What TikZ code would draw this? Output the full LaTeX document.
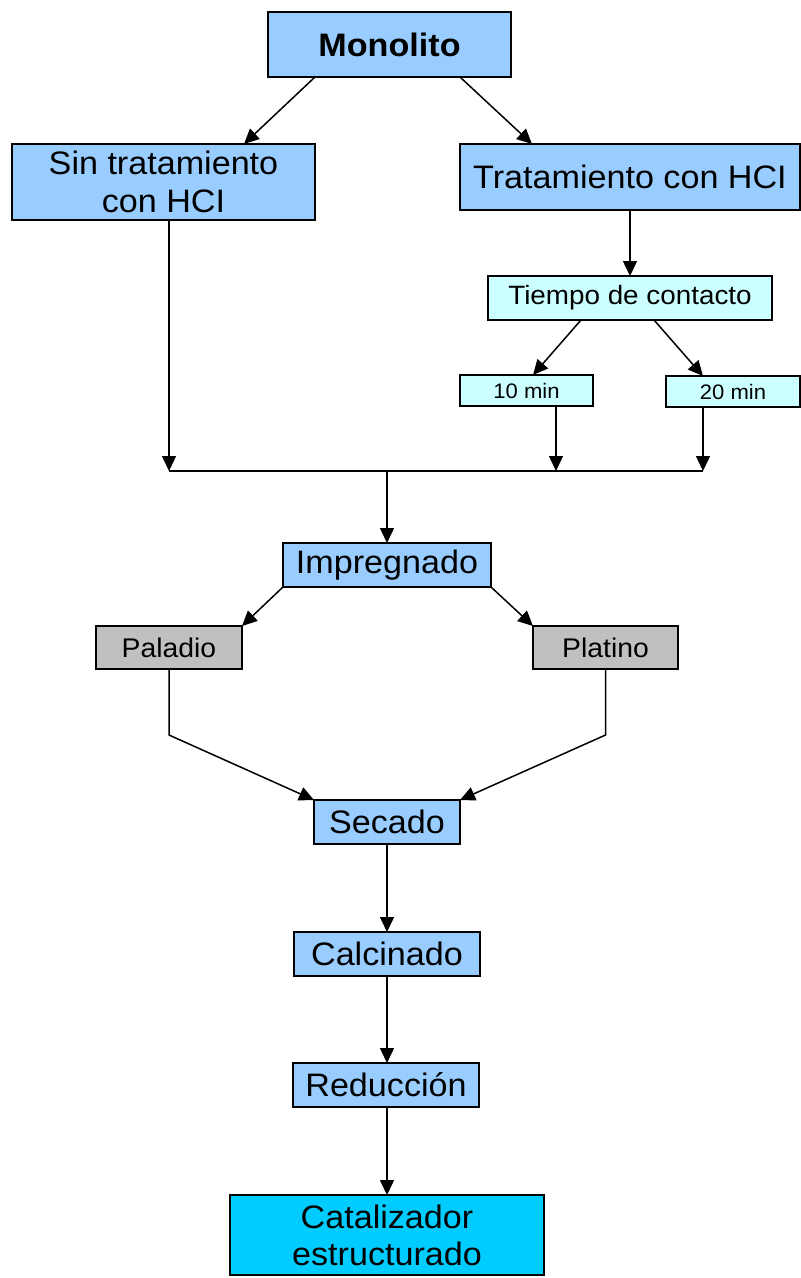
\documentclass[tikz,border=0pt]{standalone}
\usepackage{fontspec}
\setmainfont{Liberation Sans}[FakeStretch=1.05]
\usetikzlibrary{arrows.meta,calc}
\definecolor{boxblue}{HTML}{99CCFF}
\definecolor{boxcyan}{HTML}{CCFFFF}
\definecolor{boxgray}{HTML}{C0C0C0}
\definecolor{boxfinal}{HTML}{00CCFF}
\begin{document}
\begin{tikzpicture}[x=1pt,y=-1pt,
  box/.style={draw=black, line width=1.5pt, inner sep=0pt, outer sep=0pt, align=center},
  bluebox/.style={box, fill=boxblue, font=\fontsize{32.5}{38}\selectfont},
  cyanbox/.style={box, fill=boxcyan},
  graybox/.style={box, fill=boxgray, font=\fontsize{27}{32}\selectfont},
  arr/.style={-{Triangle[length=15pt,width=14pt]}, line width=1.5pt},
  ln/.style={line width=1.5pt}]
\useasboundingbox (0,0) rectangle (801,1278);
% nodes
\node[bluebox, font=\bfseries\fontsize{32.5}{38}\selectfont, minimum width=243, minimum height=65] (mono) at (389.5,44.5) {Monolito};
\node[bluebox, minimum width=303, minimum height=76] (sin) at (163.5,182) {Sin tratamiento\\con HCI};
\node[bluebox, minimum width=340, minimum height=66] (trat) at (630,177) {Tratamiento con HCI};
\node[cyanbox, font=\fontsize{26.5}{32}\selectfont, minimum width=284, minimum height=44] (tiempo) at (630,298) {Tiempo de contacto};
\node[cyanbox, font=\fontsize{21}{25}\selectfont, minimum width=133, minimum height=31] (m10) at (526.5,390.5) {10 min};
\node[cyanbox, font=\fontsize{21}{25}\selectfont, minimum width=134, minimum height=31] (m20) at (733,391.5) {20 min};
\node[bluebox, minimum width=208, minimum height=44] (impr) at (387,565) {Impregnado};
\node[graybox, minimum width=146, minimum height=43] (pal) at (169,647.5) {Paladio};
\node[graybox, minimum width=145, minimum height=43] (plat) at (605.5,647.5) {Platino};
\node[bluebox, minimum width=146, minimum height=44] (sec) at (387,822) {Secado};
\node[bluebox, minimum width=186, minimum height=44] (calc) at (387,954) {Calcinado};
\node[bluebox, minimum width=186, minimum height=44] (red) at (386,1085) {Reducción};
\node[box, fill=boxfinal, font=\fontsize{32.5}{37}\selectfont, minimum width=314, minimum height=80] (cat) at (387,1235) {Catalizador\\estructurado};
% junction coordinates
\coordinate (jl) at (169,471);
\coordinate (j10) at (556,471);
\coordinate (jr) at (703,471);
\coordinate (jm) at (387,471);
\coordinate (bl) at (169,735);
\coordinate (br) at (605.5,735);
% connectors
\draw[arr] ([xshift=47]mono.south west) -- ([xshift=232]sin.north west);
\draw[arr] ([xshift=-51]mono.south east) -- ([xshift=72]trat.north west);
\draw[arr] (trat.south) -- (trat.south |- tiempo.north);
\draw[arr] ([xshift=93]tiempo.south west) -- ([xshift=73]m10.north west);
\draw[arr] ([xshift=166]tiempo.south west) -- ([xshift=37]m20.north west);
\draw[arr] (sin.south -| jl) -- (jl);
\draw[arr] (m10.south -| j10) -- (j10);
\draw[arr] (m20.south -| jr) -- (jr);
\draw[ln] (jl) -- (jr);
\draw[arr] (jm) -- (jm |- impr.north);
\draw[arr] (impr.south west) -- (pal.north east);
\draw[arr] (impr.south east) -- (plat.north west);
\draw[arr] (pal.south) -- (bl) -- (sec.north west);
\draw[arr] (plat.south) -- (br) -- (sec.north east);
\draw[arr] (sec.south) -- (calc.north);
\draw[arr] (calc.south) -- (calc.south |- red.north);
\draw[arr] (red.south -| cat.north) -- (cat.north);
\end{tikzpicture}
\end{document}
